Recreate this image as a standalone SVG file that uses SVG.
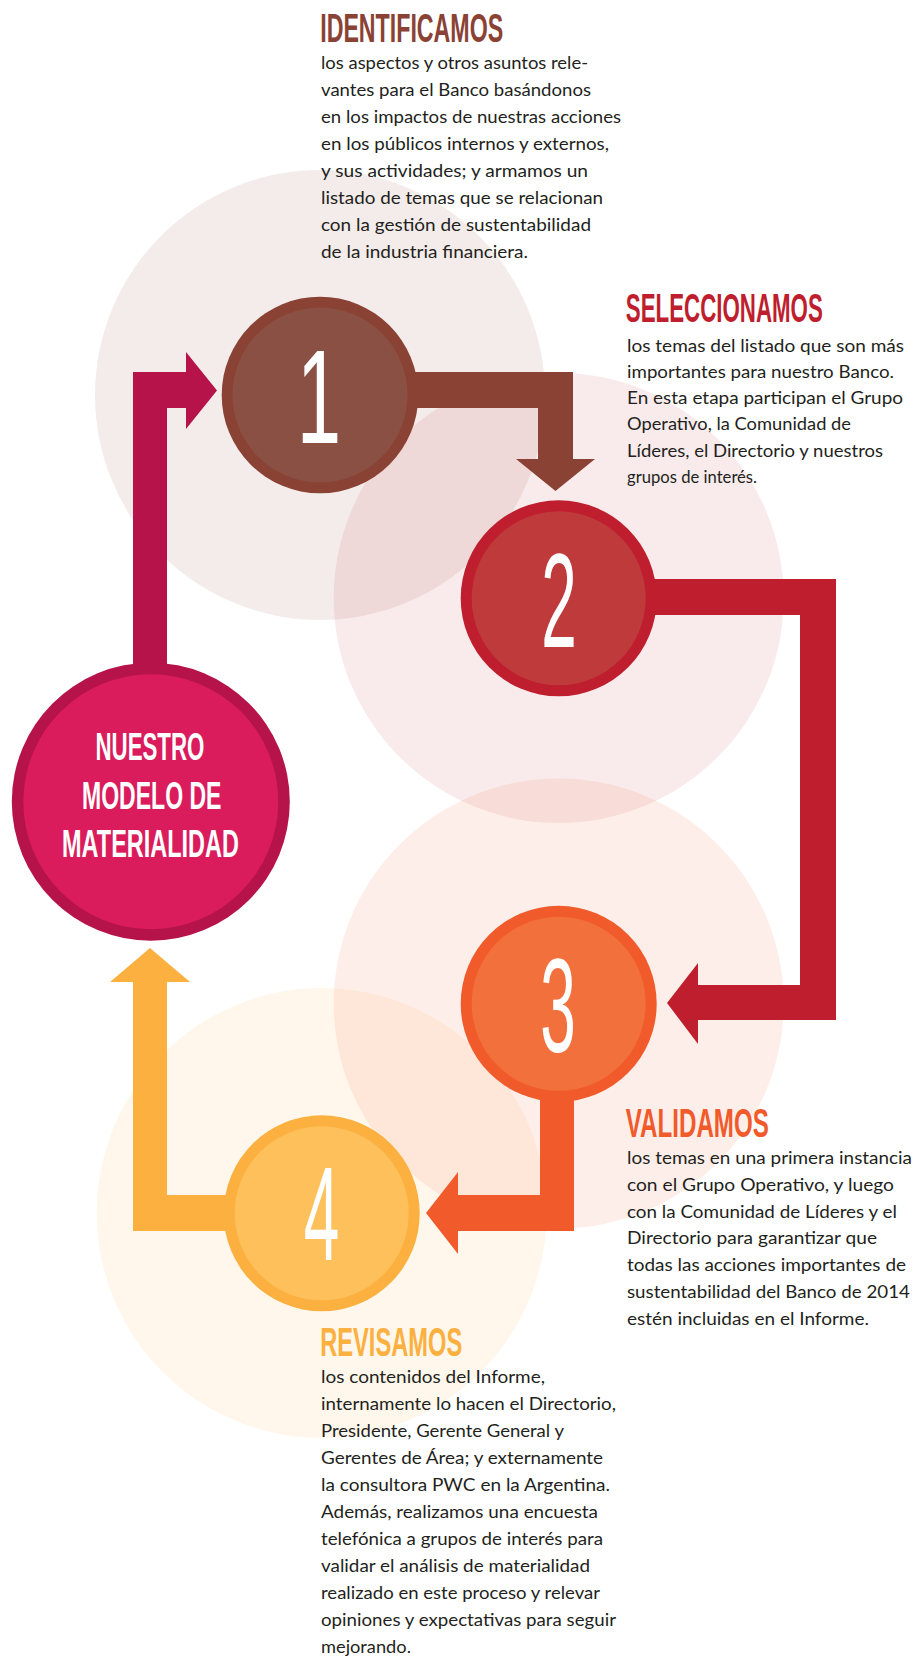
<svg xmlns="http://www.w3.org/2000/svg" width="917" height="1660" viewBox="0 0 917 1660">
<style>
.h{font-family:"Liberation Sans",Arial,sans-serif;font-weight:700;font-size:40px}
.b{font-family:Lato,"Liberation Sans",sans-serif;font-size:18px;fill:#231F20}
.num{font-family:"Liberation Sans",Arial,sans-serif;font-size:133px;fill:#fff;text-anchor:middle}
.mt{font-family:"Liberation Sans",Arial,sans-serif;font-weight:700;font-size:39px;fill:#fff}
</style>
<rect width="917" height="1660" fill="#fff"/>
<g id="background">
<circle cx="320" cy="395" r="225" fill="#8A4234" fill-opacity="0.1"/>
<circle cx="558.7" cy="598" r="225" fill="#BE1E2D" fill-opacity="0.09"/>
<circle cx="558.7" cy="1003.5" r="225" fill="#F15A2B" fill-opacity="0.1"/>
<circle cx="321.7" cy="1213" r="225" fill="#FBB040" fill-opacity="0.1"/>
</g>
<g id="connectors">
<path d="M133,690 V372 H186 V352 L217,390.5 L186,429 V408 H167 V690 Z" fill="#B5134A"/>
<path d="M400,372 H573 V459 H595 L555.5,491 L516,459 H538 V408 H400 Z" fill="#8A4234"/>
<path d="M640,579 H836 V1020 H698 V1044 L667,1003 L698,963 V985 H800 V615 H640 Z" fill="#BE1E2D"/>
<path d="M540,1080 V1195 H458 V1172 L426,1213 L458,1254 V1231 H574 V1080 Z" fill="#F15A2B"/>
<path d="M240,1195 H167 V982 H190 L150,948 L110,982 H133 V1231 H240 Z" fill="#FBB040"/>
</g>
<g id="node-main">
<circle cx="150.8" cy="801.7" r="139" fill="#B5134A"/>
<circle cx="150.8" cy="801.7" r="127.5" fill="#DA1C5C"/>
<text class="mt" transform="translate(95.5,760) scale(0.57,1)" textLength="191" lengthAdjust="spacingAndGlyphs">NUESTRO</text>
<text class="mt" transform="translate(82,808.5) scale(0.59,1)" textLength="236.4" lengthAdjust="spacingAndGlyphs">MODELO DE</text>
<text class="mt" transform="translate(62,857) scale(0.596,1)" textLength="297" lengthAdjust="spacingAndGlyphs">MATERIALIDAD</text>
</g>
<g id="node-1">
<circle cx="320" cy="395" r="98.3" fill="#8A4234"/>
<circle cx="320" cy="395" r="87.5" fill="#8B5044"/>
<text class="num" transform="translate(319,443.3) scale(0.6,1)">1</text>
</g>
<g id="node-2">
<circle cx="558.7" cy="598.3" r="98" fill="#BE1E2D"/>
<circle cx="558.7" cy="598.3" r="87" fill="#BF3A3B"/>
<text class="num" transform="translate(559,646.5) scale(0.48,1)">2</text>
</g>
<g id="node-3">
<circle cx="558.7" cy="1003.8" r="98" fill="#F15A2B"/>
<circle cx="558.7" cy="1003.8" r="87" fill="#F2703C"/>
<text class="num" transform="translate(558,1052) scale(0.48,1)">3</text>
</g>
<g id="node-4">
<circle cx="321.7" cy="1213.3" r="98" fill="#FBB040"/>
<circle cx="321.7" cy="1213.3" r="87" fill="#FDC05B"/>
<text class="num" transform="translate(321.5,1260) scale(0.48,1)">4</text>
</g>
<g id="text-identificamos">
<text class="h" transform="translate(320.2,41.7) scale(0.58,1)" fill="#8A4234" textLength="315.5" lengthAdjust="spacingAndGlyphs">IDENTIFICAMOS</text>
<text class="b" x="321" y="68.5" textLength="267" lengthAdjust="spacingAndGlyphs">los aspectos y otros asuntos rele-</text>
<text class="b" x="321" y="95.6" textLength="270" lengthAdjust="spacingAndGlyphs">vantes para el Banco basándonos</text>
<text class="b" x="321" y="122.7" textLength="300" lengthAdjust="spacingAndGlyphs">en los impactos de nuestras acciones</text>
<text class="b" x="321" y="149.8" textLength="288" lengthAdjust="spacingAndGlyphs">en los públicos internos y externos,</text>
<text class="b" x="321" y="176.9" textLength="267" lengthAdjust="spacingAndGlyphs">y sus actividades; y armamos un</text>
<text class="b" x="321" y="204" textLength="282" lengthAdjust="spacingAndGlyphs">listado de temas que se relacionan</text>
<text class="b" x="321" y="231.1" textLength="270" lengthAdjust="spacingAndGlyphs">con la gestión de sustentabilidad</text>
<text class="b" x="321" y="258.2" textLength="207" lengthAdjust="spacingAndGlyphs">de la industria financiera.</text>
</g>
<g id="text-seleccionamos">
<text class="h" transform="translate(625.8,321.7) scale(0.56,1)" fill="#BE1E2D" textLength="351.8" lengthAdjust="spacingAndGlyphs">SELECCIONAMOS</text>
<text class="b" x="627" y="351.5" textLength="277" lengthAdjust="spacingAndGlyphs">los temas del listado que son más</text>
<text class="b" x="627" y="377.8" textLength="267" lengthAdjust="spacingAndGlyphs">importantes para nuestro Banco.</text>
<text class="b" x="627" y="404" textLength="276" lengthAdjust="spacingAndGlyphs">En esta etapa participan el Grupo</text>
<text class="b" x="627" y="430.3" textLength="224" lengthAdjust="spacingAndGlyphs">Operativo, la Comunidad de</text>
<text class="b" x="627" y="456.5" textLength="256" lengthAdjust="spacingAndGlyphs">Líderes, el Directorio y nuestros</text>
<text class="b" x="627" y="482.8" textLength="130" lengthAdjust="spacingAndGlyphs">grupos de interés.</text>
</g>
<g id="text-validamos">
<text class="h" transform="translate(625.8,1136.7) scale(0.596,1)" fill="#F15A2B" textLength="240" lengthAdjust="spacingAndGlyphs">VALIDAMOS</text>
<text class="b" x="627" y="1164" textLength="285" lengthAdjust="spacingAndGlyphs">los temas en una primera instancia</text>
<text class="b" x="627" y="1190.8" textLength="267" lengthAdjust="spacingAndGlyphs">con el Grupo Operativo, y luego</text>
<text class="b" x="627" y="1217.6" textLength="270" lengthAdjust="spacingAndGlyphs">con la Comunidad de Líderes y el</text>
<text class="b" x="627" y="1244.4" textLength="250" lengthAdjust="spacingAndGlyphs">Directorio para garantizar que</text>
<text class="b" x="627" y="1271.2" textLength="279" lengthAdjust="spacingAndGlyphs">todas las acciones importantes de</text>
<text class="b" x="627" y="1298" textLength="283" lengthAdjust="spacingAndGlyphs">sustentabilidad del Banco de 2014</text>
<text class="b" x="627" y="1324.8" textLength="242" lengthAdjust="spacingAndGlyphs">estén incluidas en el Informe.</text>
</g>
<g id="text-revisamos">
<text class="h" transform="translate(320.2,1356) scale(0.59,1)" fill="#FBB040" textLength="240.7" lengthAdjust="spacingAndGlyphs">REVISAMOS</text>
<text class="b" x="321" y="1383.3" textLength="224" lengthAdjust="spacingAndGlyphs">los contenidos del Informe,</text>
<text class="b" x="321" y="1410.3" textLength="295" lengthAdjust="spacingAndGlyphs">internamente lo hacen el Directorio,</text>
<text class="b" x="321" y="1437.3" textLength="243" lengthAdjust="spacingAndGlyphs">Presidente, Gerente General y</text>
<text class="b" x="321" y="1464.3" textLength="282" lengthAdjust="spacingAndGlyphs">Gerentes de Área; y externamente</text>
<text class="b" x="321" y="1491.3" textLength="289" lengthAdjust="spacingAndGlyphs">la consultora PWC en la Argentina.</text>
<text class="b" x="321" y="1518.3" textLength="277" lengthAdjust="spacingAndGlyphs">Además, realizamos una encuesta</text>
<text class="b" x="321" y="1545.3" textLength="282" lengthAdjust="spacingAndGlyphs">telefónica a grupos de interés para</text>
<text class="b" x="321" y="1572.3" textLength="269" lengthAdjust="spacingAndGlyphs">validar el análisis de materialidad</text>
<text class="b" x="321" y="1599.3" textLength="279" lengthAdjust="spacingAndGlyphs">realizado en este proceso y relevar</text>
<text class="b" x="321" y="1626.3" textLength="295" lengthAdjust="spacingAndGlyphs">opiniones y expectativas para seguir</text>
<text class="b" x="321" y="1653.3" textLength="90" lengthAdjust="spacingAndGlyphs">mejorando.</text>
</g>
</svg>
